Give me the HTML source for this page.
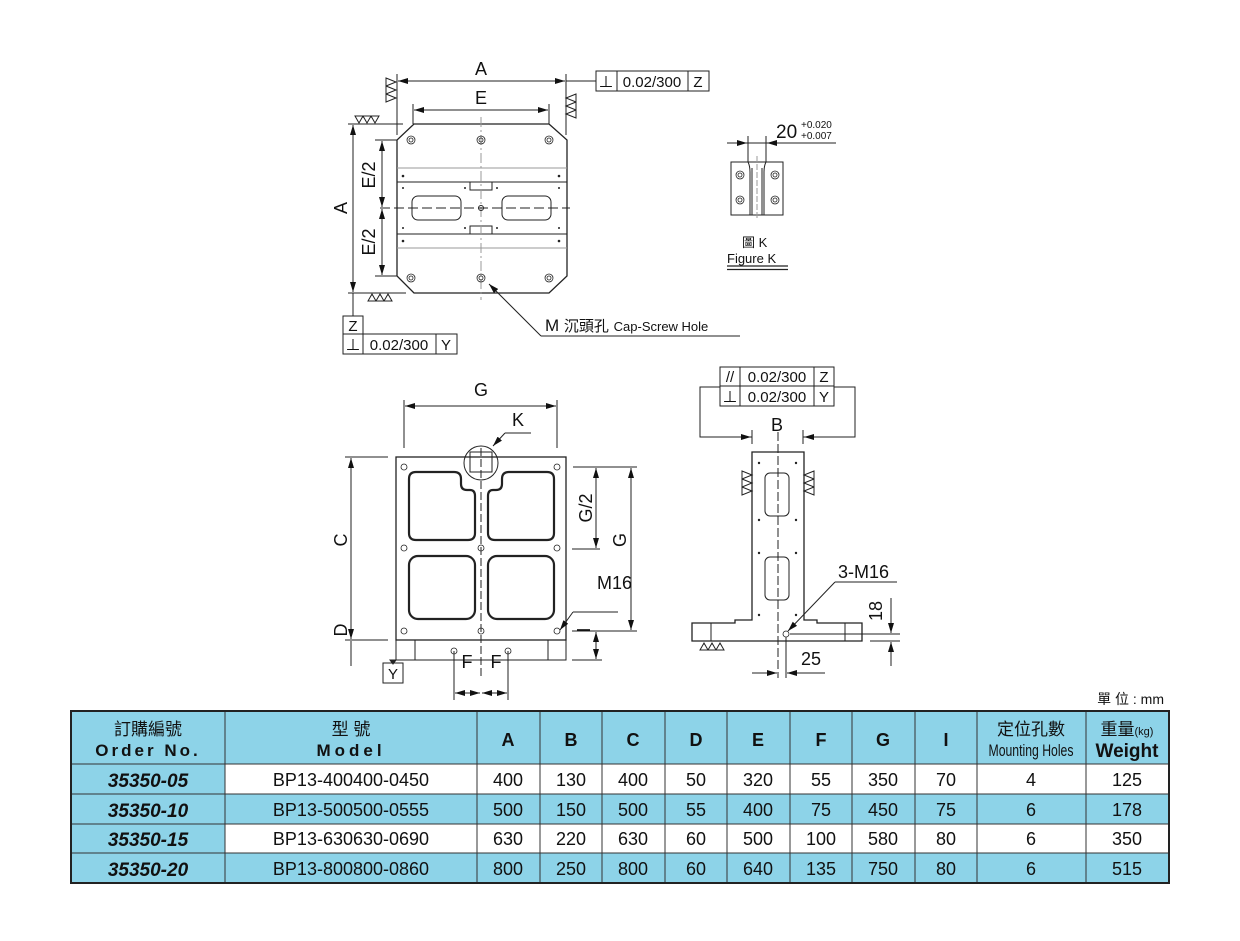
<!DOCTYPE html>
<html><head><meta charset="utf-8"><style>
body{margin:0;background:#fff}
svg{display:block}
text{font-family:"Liberation Sans","Noto Sans CJK TC",sans-serif;fill:#111}
</style></head><body>
<svg width="1240" height="941" viewBox="0 0 1240 941" xmlns="http://www.w3.org/2000/svg">
<defs>
<marker id="ar" viewBox="0 0 10 6" refX="10" refY="3" markerWidth="10" markerHeight="6" orient="auto-start-reverse" markerUnits="userSpaceOnUse"><path d="M0,0L10,3L0,6z" fill="#111"/></marker>
</defs>
<g stroke="#222" stroke-width="1" fill="none">
<path d="M414,124H549L567,140V276L549,293H414L397,276V140Z" stroke-width="1.3"/>
<line x1="397" y1="168" x2="567" y2="168" stroke="#999"/>
<line x1="397" y1="182" x2="567" y2="182"/>
<line x1="397" y1="234" x2="567" y2="234"/>
<line x1="397" y1="248" x2="567" y2="248" stroke="#999"/>
<rect x="412" y="196" width="49" height="24" rx="6"/>
<rect x="502" y="196" width="49" height="24" rx="6"/>
<rect x="470" y="182" width="22" height="8"/>
<rect x="470" y="226" width="22" height="8"/>
<line x1="481" y1="117" x2="481" y2="300" stroke="#999" stroke-dasharray="10,3,2,3"/>
<line x1="380" y1="208" x2="570" y2="208" stroke-dasharray="10,4"/>
<circle cx="481" cy="208" r="2.5"/>
<g stroke-width="0.8">
<circle cx="411" cy="140" r="4"/><circle cx="411" cy="140" r="2"/>
<circle cx="481" cy="140" r="4"/><circle cx="481" cy="140" r="2"/>
<circle cx="549" cy="140" r="4"/><circle cx="549" cy="140" r="2"/>
<circle cx="411" cy="278" r="4"/><circle cx="411" cy="278" r="2"/>
<circle cx="481" cy="278" r="4"/><circle cx="481" cy="278" r="2"/>
<circle cx="549" cy="278" r="4"/><circle cx="549" cy="278" r="2"/>
</g>
<g fill="#222" stroke="none">
<circle cx="403" cy="176" r="1.3"/><circle cx="559" cy="176" r="1.3"/>
<circle cx="403" cy="241" r="1.3"/><circle cx="559" cy="241" r="1.3"/>
<circle cx="403" cy="188" r="1"/><circle cx="559" cy="188" r="1"/>
<circle cx="403" cy="228" r="1"/><circle cx="559" cy="228" r="1"/>
<circle cx="465" cy="188" r="1"/><circle cx="497" cy="188" r="1"/>
<circle cx="465" cy="228" r="1"/><circle cx="497" cy="228" r="1"/>
</g>
<line x1="397" y1="74" x2="397" y2="135"/><line x1="566" y1="74" x2="566" y2="135"/>
<line x1="398" y1="81" x2="565" y2="81" marker-start="url(#ar)" marker-end="url(#ar)"/>
<line x1="566" y1="81" x2="596" y2="81"/>
<line x1="413" y1="104" x2="413" y2="124"/><line x1="549" y1="104" x2="549" y2="124"/>
<line x1="414" y1="110" x2="548" y2="110" marker-start="url(#ar)" marker-end="url(#ar)"/>
<line x1="348" y1="124" x2="403" y2="124"/><line x1="348" y1="293" x2="406" y2="293"/>
<line x1="353" y1="125" x2="353" y2="292" marker-start="url(#ar)" marker-end="url(#ar)"/>
<line x1="353" y1="293" x2="353" y2="316"/>
<line x1="375" y1="140" x2="397" y2="140"/><line x1="375" y1="276" x2="397" y2="276"/>
<line x1="382" y1="141" x2="382" y2="207" marker-start="url(#ar)" marker-end="url(#ar)"/>
<line x1="382" y1="209" x2="382" y2="275" marker-start="url(#ar)" marker-end="url(#ar)"/>
<path d="M386,78l10,4l-10,4zM386,86l10,4l-10,4zM386,94l10,4l-10,4z"/>
<path d="M576,94l-10,4l10,4zM576,102l-10,4l10,4zM576,110l-10,4l10,4z"/>
<path d="M355,116l4,7l4,-7zM363,116l4,7l4,-7zM371,116l4,7l4,-7z"/>
<path d="M368,301l4,-7l4,7zM376,301l4,-7l4,7zM384,301l4,-7l4,7z"/>
<rect x="596" y="71" width="113" height="20"/><line x1="617" y1="71" x2="617" y2="91"/><line x1="688" y1="71" x2="688" y2="91"/>
<rect x="343" y="316" width="20" height="18"/>
<rect x="343" y="334" width="114" height="20"/><line x1="363" y1="334" x2="363" y2="354"/><line x1="436" y1="334" x2="436" y2="354"/>
<line x1="541" y1="336" x2="489" y2="284" marker-end="url(#ar)"/>
<line x1="541" y1="336" x2="740" y2="336"/>

<line x1="727" y1="143" x2="836" y2="143"/>
<line x1="748" y1="136" x2="748" y2="162"/><line x1="766" y1="136" x2="766" y2="162"/>
<line x1="736" y1="143" x2="747" y2="143" marker-end="url(#ar)"/>
<line x1="778" y1="143" x2="767" y2="143" marker-end="url(#ar)"/>
<rect x="731" y="162" width="52" height="53"/>
<path d="M748,162q2,4 2,10V215M766,162q-2,4 -2,10V215"/>
<line x1="752" y1="168" x2="752" y2="215"/><line x1="762" y1="168" x2="762" y2="215"/>
<line x1="757" y1="156" x2="757" y2="220" stroke="#999" stroke-dasharray="6,2"/>
<g stroke-width="0.8"><circle cx="740" cy="175" r="4"/><circle cx="740" cy="175" r="2"/><circle cx="740" cy="200" r="4"/><circle cx="740" cy="200" r="2"/><circle cx="775" cy="175" r="4"/><circle cx="775" cy="175" r="2"/><circle cx="775" cy="200" r="4"/><circle cx="775" cy="200" r="2"/></g>
<line x1="727" y1="266" x2="788" y2="266" stroke-width="1.3"/><line x1="727" y1="269.5" x2="788" y2="269.5" stroke-width="1.3"/>

<rect x="396" y="457" width="170" height="183" stroke-width="1.3"/>
<rect x="396" y="640" width="170" height="20"/>
<line x1="415" y1="640" x2="415" y2="660"/><line x1="548" y1="640" x2="548" y2="660"/>
<g stroke-width="2.2">
<path d="M416,472H454Q461,472 461,479V484Q461,490 467,490H470Q475,490 475,496V533Q475,540 468,540H416Q409,540 409,533V479Q409,472 416,472Z"/>
<path d="M547,472H509Q502,472 502,479V484Q502,490 496,490H493Q488,490 488,496V533Q488,540 495,540H547Q554,540 554,533V479Q554,472 547,472Z"/>
<rect x="409" y="556" width="66" height="63" rx="9"/>
<rect x="488" y="556" width="66" height="63" rx="9"/>
</g>
<circle cx="481" cy="463" r="17"/>
<rect x="470" y="452" width="22" height="20"/>
<line x1="481" y1="448" x2="481" y2="676" stroke-dasharray="8,3"/>
<g stroke-width="0.8">
<circle cx="404" cy="467" r="3"/><circle cx="557" cy="467" r="3"/>
<circle cx="404" cy="548" r="3"/><circle cx="481" cy="548" r="3"/><circle cx="557" cy="548" r="3"/>
<circle cx="404" cy="631" r="3"/><circle cx="481" cy="631" r="3"/><circle cx="557" cy="631" r="3"/>
<circle cx="454" cy="651" r="3"/><circle cx="508" cy="651" r="3"/>
</g>
<line x1="404" y1="400" x2="404" y2="448"/><line x1="557" y1="400" x2="557" y2="448"/>
<line x1="405" y1="406" x2="556" y2="406" marker-start="url(#ar)" marker-end="url(#ar)"/>
<line x1="493" y1="446" x2="505" y2="433" marker-start="url(#ar)"/><line x1="505" y1="433" x2="531" y2="433"/>
<line x1="345" y1="457" x2="388" y2="457"/><line x1="345" y1="640" x2="388" y2="640"/>
<line x1="351" y1="458" x2="351" y2="639" marker-start="url(#ar)" marker-end="url(#ar)"/>
<line x1="351" y1="641" x2="351" y2="666"/>
<line x1="573" y1="467" x2="637" y2="467"/><line x1="572" y1="549" x2="600" y2="549"/><line x1="572" y1="631" x2="637" y2="631"/><line x1="572" y1="660" x2="602" y2="660"/>
<line x1="596" y1="468" x2="596" y2="548" marker-start="url(#ar)" marker-end="url(#ar)"/>
<line x1="631" y1="468" x2="631" y2="630" marker-start="url(#ar)" marker-end="url(#ar)"/>
<line x1="596" y1="632" x2="596" y2="659" marker-start="url(#ar)" marker-end="url(#ar)"/>
<line x1="560" y1="630" x2="573" y2="612" marker-start="url(#ar)"/><line x1="573" y1="612" x2="618" y2="612"/>
<line x1="454" y1="651" x2="454" y2="700"/><line x1="508" y1="651" x2="508" y2="700"/>
<line x1="455" y1="693" x2="480" y2="693" marker-start="url(#ar)" marker-end="url(#ar)"/>
<line x1="482" y1="693" x2="507" y2="693" marker-start="url(#ar)" marker-end="url(#ar)"/>
<line x1="393" y1="660" x2="393" y2="663"/>
<path d="M390,660h6l-3,4z" fill="#222"/>
<rect x="383" y="663" width="20" height="20"/>

<path d="M752,452H804V620H817V623H862V641H692V623H735V620H752Z" stroke-width="1.3"/>
<line x1="711" y1="623" x2="711" y2="641"/><line x1="845" y1="623" x2="845" y2="641"/>
<rect x="765" y="473" width="24" height="43" rx="5"/>
<rect x="765" y="557" width="24" height="43" rx="5"/>
<line x1="778" y1="432" x2="778" y2="678" stroke-dasharray="9,3"/>
<circle cx="786" cy="634" r="3" stroke-width="0.8"/>
<g fill="#222" stroke="none"><circle cx="759" cy="463" r="1.2"/><circle cx="796" cy="463" r="1.2"/><circle cx="759" cy="520" r="1.2"/><circle cx="796" cy="520" r="1.2"/><circle cx="759" cy="553" r="1.2"/><circle cx="796" cy="553" r="1.2"/><circle cx="759" cy="615" r="1.2"/><circle cx="796" cy="615" r="1.2"/></g>
<path d="M742,471l10,4l-10,4zM742,479l10,4l-10,4zM742,487l10,4l-10,4z"/>
<path d="M814,471l-10,4l10,4zM814,479l-10,4l10,4zM814,487l-10,4l10,4z"/>
<path d="M700,650l4,-7l4,7zM708,650l4,-7l4,7zM716,650l4,-7l4,7z"/>
<rect x="720" y="367" width="114" height="19"/><rect x="720" y="386" width="114" height="20"/>
<line x1="740" y1="367" x2="740" y2="406"/><line x1="814" y1="367" x2="814" y2="406"/>
<path d="M720,387H700V437H752M834,387H855V437H803"/>
<line x1="752" y1="430" x2="752" y2="444"/><line x1="803" y1="430" x2="803" y2="444"/>
<line x1="740" y1="437" x2="751" y2="437" marker-end="url(#ar)"/>
<line x1="815" y1="437" x2="804" y2="437" marker-end="url(#ar)"/>
<line x1="835" y1="582" x2="788" y2="631" marker-end="url(#ar)"/><line x1="835" y1="582" x2="897" y2="582"/>
<line x1="790" y1="634" x2="900" y2="634"/><line x1="870" y1="641" x2="900" y2="641"/>
<line x1="891" y1="598" x2="891" y2="633" marker-end="url(#ar)"/>
<line x1="891" y1="666" x2="891" y2="642" marker-end="url(#ar)"/>
<line x1="786" y1="637" x2="786" y2="678"/>
<line x1="752" y1="673" x2="777" y2="673" marker-end="url(#ar)"/>
<line x1="825" y1="673" x2="787" y2="673" marker-end="url(#ar)"/>
</g>

<g font-size="18">
<text x="481" y="75" text-anchor="middle">A</text>
<text x="481" y="104" text-anchor="middle">E</text>
<text transform="translate(347,208) rotate(-90)" text-anchor="middle">A</text>
<text transform="translate(375,175) rotate(-90)" text-anchor="middle">E/2</text>
<text transform="translate(375,242) rotate(-90)" text-anchor="middle">E/2</text>
<text x="481" y="396" text-anchor="middle">G</text>
<text x="518" y="426" text-anchor="middle">K</text>
<text transform="translate(347,540) rotate(-90)" text-anchor="middle">C</text>
<text transform="translate(347,630) rotate(-90)" text-anchor="middle">D</text>
<text transform="translate(592,508) rotate(-90)" text-anchor="middle">G/2</text>
<text transform="translate(626,540) rotate(-90)" text-anchor="middle">G</text>
<text transform="translate(590,630) rotate(-90)" text-anchor="middle">I</text>
<text x="597" y="589">M16</text>
<text x="467" y="668" text-anchor="middle">F</text>
<text x="496" y="668" text-anchor="middle">F</text>
<text x="777" y="431" text-anchor="middle">B</text>
<text x="838" y="578">3-M16</text>
<text transform="translate(882,611) rotate(-90)" text-anchor="middle">18</text>
<text x="811" y="665" text-anchor="middle">25</text>
<text x="776" y="138" font-size="19">20</text>
</g>
<g font-size="15">
<text x="606" y="87" text-anchor="middle">⊥</text><text x="652" y="87" text-anchor="middle">0.02/300</text><text x="698" y="87" text-anchor="middle">Z</text>
<text x="353" y="331" text-anchor="middle">Z</text>
<text x="353" y="350" text-anchor="middle">⊥</text><text x="399" y="350" text-anchor="middle">0.02/300</text><text x="446" y="350" text-anchor="middle">Y</text>
<text x="393" y="679" text-anchor="middle">Y</text>
<text x="730" y="382" text-anchor="middle">//</text><text x="777" y="382" text-anchor="middle">0.02/300</text><text x="824" y="382" text-anchor="middle">Z</text>
<text x="730" y="402" text-anchor="middle">⊥</text><text x="777" y="402" text-anchor="middle">0.02/300</text><text x="824" y="402" text-anchor="middle">Y</text>
<text x="545" y="331" font-size="17">M <tspan font-size="15">沉頭孔</tspan> <tspan font-size="13">Cap-Screw Hole</tspan></text>
<text x="801" y="128" font-size="10">+0.020</text>
<text x="801" y="139" font-size="10">+0.007</text>
<text x="742" y="247" font-size="13">圖 K</text>
<text x="727" y="263" font-size="13">Figure K</text>
<text x="1164" y="704" text-anchor="end" font-size="14">單 位 : mm</text>
</g>

<g>
<rect x="71" y="711" width="1098" height="53" fill="#8dd3e8"/>
<rect x="71" y="764" width="154" height="119" fill="#8dd3e8"/>
<rect x="225" y="794" width="944" height="30" fill="#8dd3e8"/>
<rect x="225" y="853" width="944" height="30" fill="#8dd3e8"/>
<g stroke="#333" stroke-width="1">
<line x1="71" y1="764" x2="1169" y2="764"/><line x1="71" y1="794" x2="1169" y2="794"/><line x1="71" y1="824" x2="1169" y2="824"/><line x1="71" y1="853" x2="1169" y2="853"/>
<line x1="225" y1="711" x2="225" y2="883"/><line x1="477" y1="711" x2="477" y2="883"/><line x1="540" y1="711" x2="540" y2="883"/><line x1="602" y1="711" x2="602" y2="883"/><line x1="665" y1="711" x2="665" y2="883"/><line x1="727" y1="711" x2="727" y2="883"/><line x1="790" y1="711" x2="790" y2="883"/><line x1="852" y1="711" x2="852" y2="883"/><line x1="915" y1="711" x2="915" y2="883"/><line x1="977" y1="711" x2="977" y2="883"/><line x1="1086" y1="711" x2="1086" y2="883"/>
</g>
<rect x="71" y="711" width="1098" height="172" fill="none" stroke="#222" stroke-width="2"/>
<g font-size="17" text-anchor="middle">
<text x="148" y="735" font-size="17">訂購編號</text>
<text x="148" y="756" font-weight="bold" letter-spacing="3">Order No.</text>
<text x="351" y="735" font-size="17">型 號</text>
<text x="351" y="756" font-weight="bold" letter-spacing="4">Model</text>
<g font-weight="bold" font-size="18"><text x="508" y="746">A</text><text x="571" y="746">B</text><text x="633" y="746">C</text><text x="696" y="746">D</text><text x="758" y="746">E</text><text x="821" y="746">F</text><text x="883" y="746">G</text><text x="946" y="746">I</text></g>
<text x="1031" y="735" font-size="17">定位孔數</text>
<text x="1031" y="756" font-size="17" transform="translate(1031,0) scale(0.72,1) translate(-1031,0)">Mounting Holes</text>
<text x="1127" y="735" font-size="17">重量<tspan font-size="11">(kg)</tspan></text>
<text x="1127" y="757" font-weight="bold" font-size="19">Weight</text>
<g font-weight="bold" font-style="italic" font-size="19"><text x="148" y="787">35350-05</text><text x="148" y="817">35350-10</text><text x="148" y="846">35350-15</text><text x="148" y="876">35350-20</text></g>
<g font-size="18">
<text x="351" y="786">BP13-400400-0450</text><text x="508" y="786">400</text><text x="571" y="786">130</text><text x="633" y="786">400</text><text x="696" y="786">50</text><text x="758" y="786">320</text><text x="821" y="786">55</text><text x="883" y="786">350</text><text x="946" y="786">70</text><text x="1031" y="786">4</text><text x="1127" y="786">125</text>
<text x="351" y="816">BP13-500500-0555</text><text x="508" y="816">500</text><text x="571" y="816">150</text><text x="633" y="816">500</text><text x="696" y="816">55</text><text x="758" y="816">400</text><text x="821" y="816">75</text><text x="883" y="816">450</text><text x="946" y="816">75</text><text x="1031" y="816">6</text><text x="1127" y="816">178</text>
<text x="351" y="845">BP13-630630-0690</text><text x="508" y="845">630</text><text x="571" y="845">220</text><text x="633" y="845">630</text><text x="696" y="845">60</text><text x="758" y="845">500</text><text x="821" y="845">100</text><text x="883" y="845">580</text><text x="946" y="845">80</text><text x="1031" y="845">6</text><text x="1127" y="845">350</text>
<text x="351" y="875">BP13-800800-0860</text><text x="508" y="875">800</text><text x="571" y="875">250</text><text x="633" y="875">800</text><text x="696" y="875">60</text><text x="758" y="875">640</text><text x="821" y="875">135</text><text x="883" y="875">750</text><text x="946" y="875">80</text><text x="1031" y="875">6</text><text x="1127" y="875">515</text>
</g>
</g>
</g>
</svg>
</body></html>
